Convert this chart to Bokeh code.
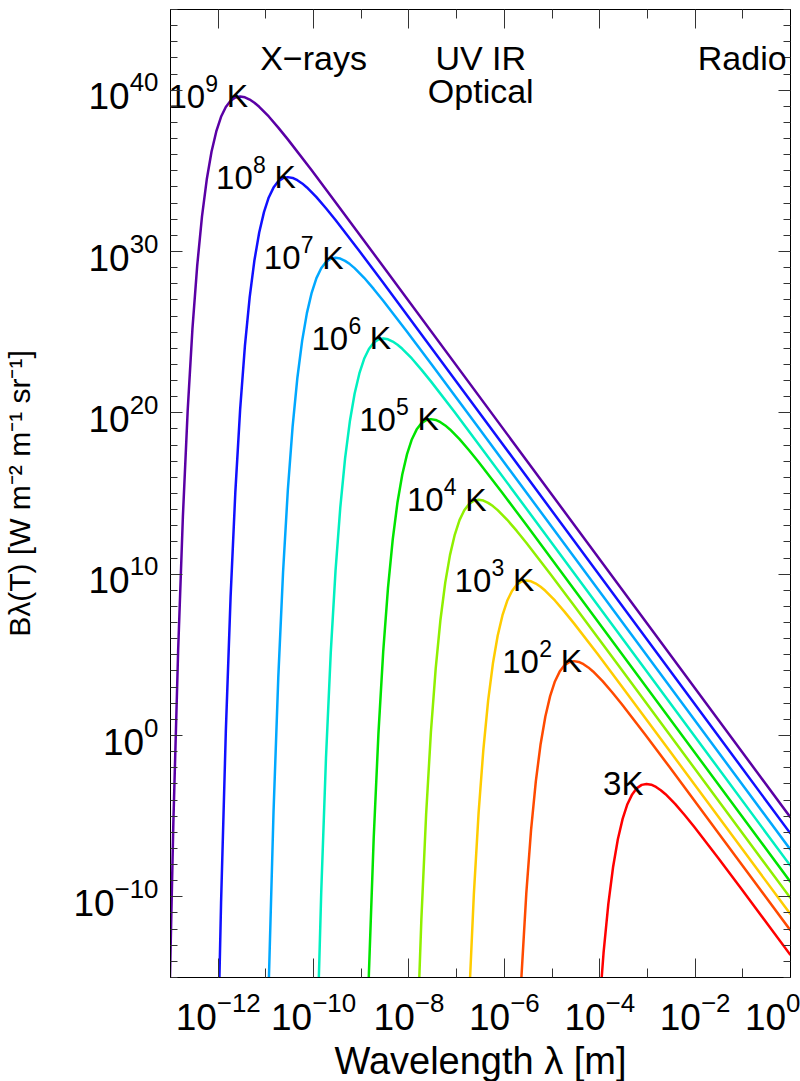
import numpy as np
from bokeh.plotting import figure
from bokeh.models import LogAxis, FixedTicker, Label, ColumnDataSource
from bokeh.embed import file_html
from bokeh.resources import INLINE
from bokeh.core.properties import value

# ---------------- data (log10 of wavelength [m] and of B_lambda) ----------------
lam_T1e9 = [-13.04, -12.94, -12.84, -12.74, -12.64, -12.54, -12.44, -12.34, -12.24, -12.14, -12.04, -11.94, -11.84, -11.74, -11.64, -11.54, -11.44, -11.34, -11.24, -11.14, -10.94, -10.74, -10.54, -10.04, -9.54, -8.54, 0.0]
B_T1e9 = [-18.93, -5.40, 5.24, 13.59, 20.12, 25.20, 29.13, 32.16, 34.46, 36.18, 37.44, 38.35, 38.96, 39.35, 39.55, 39.61, 39.56, 39.42, 39.22, 38.97, 38.37, 37.68, 36.95, 35.03, 33.06, 29.07, -5.08]

lam_T1e8 = [-12.04, -11.94, -11.84, -11.74, -11.64, -11.54, -11.44, -11.34, -11.24, -11.14, -11.04, -10.94, -10.84, -10.74, -10.64, -10.54, -10.44, -10.34, -10.24, -10.14, -9.94, -9.74, -9.54, -9.04, -8.54, -7.54, 0.0]
B_T1e8 = [-23.93, -10.40, 0.24, 8.59, 15.12, 20.20, 24.13, 27.16, 29.46, 31.18, 32.44, 33.35, 33.96, 34.35, 34.55, 34.61, 34.56, 34.42, 34.22, 33.97, 33.37, 32.68, 31.95, 30.03, 28.06, 24.07, -6.08]

lam_T1e7 = [-11.04, -10.94, -10.84, -10.74, -10.64, -10.54, -10.44, -10.34, -10.24, -10.14, -10.04, -9.94, -9.84, -9.74, -9.64, -9.54, -9.44, -9.34, -9.24, -9.14, -8.94, -8.74, -8.54, -8.04, -7.54, -6.54, 0.0]
B_T1e7 = [-28.93, -15.40, -4.76, 3.59, 10.12, 15.20, 19.13, 22.16, 24.46, 26.18, 27.44, 28.35, 28.96, 29.35, 29.55, 29.61, 29.56, 29.42, 29.22, 28.97, 28.37, 27.68, 26.95, 25.03, 23.06, 19.07, -7.08]

lam_T1e6 = [-9.94, -9.84, -9.74, -9.64, -9.54, -9.44, -9.34, -9.24, -9.14, -9.04, -8.94, -8.84, -8.74, -8.64, -8.54, -8.44, -8.34, -8.24, -8.14, -7.94, -7.74, -7.54, -7.04, -6.54, -5.54, 0.0]
B_T1e6 = [-20.40, -9.76, -1.41, 5.12, 10.20, 14.13, 17.16, 19.46, 21.18, 22.44, 23.35, 23.96, 24.35, 24.55, 24.61, 24.56, 24.42, 24.22, 23.97, 23.37, 22.68, 21.95, 20.03, 18.06, 14.07, -8.08]

lam_T1e5 = [-8.94, -8.84, -8.74, -8.64, -8.54, -8.44, -8.34, -8.24, -8.14, -8.04, -7.94, -7.84, -7.74, -7.64, -7.54, -7.44, -7.34, -7.24, -7.14, -6.94, -6.74, -6.54, -6.04, -5.54, -4.54, 0.0]
B_T1e5 = [-25.40, -14.76, -6.41, 0.12, 5.20, 9.13, 12.16, 14.46, 16.18, 17.44, 18.35, 18.96, 19.35, 19.55, 19.61, 19.56, 19.42, 19.22, 18.97, 18.37, 17.68, 16.95, 15.03, 13.06, 9.07, -9.08]

lam_T1e4 = [-7.84, -7.74, -7.64, -7.54, -7.44, -7.34, -7.24, -7.14, -7.04, -6.94, -6.84, -6.74, -6.64, -6.54, -6.44, -6.34, -6.24, -6.14, -5.94, -5.74, -5.54, -5.04, -4.54, -3.54, 0.0]
B_T1e4 = [-19.76, -11.41, -4.88, 0.20, 4.13, 7.16, 9.46, 11.18, 12.44, 13.35, 13.96, 14.35, 14.55, 14.61, 14.56, 14.42, 14.22, 13.97, 13.37, 12.68, 11.95, 10.03, 8.06, 4.07, -10.08]

lam_T1e3 = [-6.84, -6.74, -6.64, -6.54, -6.44, -6.34, -6.24, -6.14, -6.04, -5.94, -5.84, -5.74, -5.64, -5.54, -5.44, -5.34, -5.24, -5.14, -4.94, -4.74, -4.54, -4.04, -3.54, -2.54, 0.0]
B_T1e3 = [-24.76, -16.41, -9.88, -4.80, -0.87, 2.16, 4.46, 6.18, 7.44, 8.35, 8.96, 9.35, 9.55, 9.61, 9.56, 9.42, 9.22, 8.97, 8.37, 7.68, 6.95, 5.03, 3.06, -0.93, -11.08]

lam_T1e2 = [-5.74, -5.64, -5.54, -5.44, -5.34, -5.24, -5.14, -5.04, -4.94, -4.84, -4.74, -4.64, -4.54, -4.44, -4.34, -4.24, -4.14, -3.94, -3.74, -3.54, -3.04, -2.54, -1.54, 0.0]
B_T1e2 = [-21.41, -14.88, -9.80, -5.87, -2.84, -0.54, 1.18, 2.44, 3.35, 3.96, 4.35, 4.55, 4.61, 4.56, 4.42, 4.22, 3.97, 3.37, 2.68, 1.95, 0.03, -1.94, -5.93, -12.08]

lam_T3 = [-4.02, -3.92, -3.82, -3.72, -3.62, -3.52, -3.42, -3.32, -3.22, -3.12, -3.02, -2.92, -2.82, -2.72, -2.62, -2.42, -2.22, -2.02, -1.52, -1.02, 0.0]
B_T3 = [-17.41, -13.48, -10.45, -8.15, -6.43, -5.17, -4.26, -3.65, -3.26, -3.06, -3.00, -3.05, -3.19, -3.39, -3.64, -4.24, -4.93, -5.66, -7.58, -9.55, -13.61]

curve_exponents = ["9", "8", "7", "6", "5", "4", "3", "2"]
curve_colors = ["#5a00a5", "#1010ff", "#00a8ff", "#00f0c0", "#00e400", "#8ff000",
                "#ffcc00", "#ff4a00", "#ff0000"]

x_major_ticks = [1e-12, 1e-10, 1e-8, 1e-6, 1e-4, 1e-2, 1e0]
x_minor_ticks = [1e-13, 1e-11, 1e-9, 1e-7, 1e-5, 1e-3, 1e-1]
y_major_ticks = [1e-10, 1e0, 1e10, 1e20, 1e30, 1e40]
y_minor_ticks = [float(f"1e{k}") for k in range(-15, 46) if k % 10 != 0]

band_names = ["X\u2212rays", "UV IR", "Optical", "Radio"]
band_lam = [1e-10, 3.2e-7, 3.2e-7, 8.3e-1]

x_title = "Wavelength \u03bb [m]"
y_title = "B\u03bb(T) [W m\u207b\u00b2 m\u207b\u00b9 sr\u207b\u00b9]"

# ---------------- figure ----------------
FONT = "Liberation Sans"
p = figure(frame_width=620, frame_height=968, x_axis_type="log", y_axis_type="log",
           x_range=(1e-13, 1e0), y_range=(1e-15, 1e45),
           output_backend="svg", toolbar_location=None,
           min_border_left=170, min_border_right=10, min_border_top=9, min_border_bottom=100)
p.grid.visible = False
p.outline_line_color = "black"
p.outline_line_width = 1

curves = [(lam_T1e9, B_T1e9), (lam_T1e8, B_T1e8), (lam_T1e7, B_T1e7), (lam_T1e6, B_T1e6),
          (lam_T1e5, B_T1e5), (lam_T1e4, B_T1e4), (lam_T1e3, B_T1e3), (lam_T1e2, B_T1e2),
          (lam_T3, B_T3)]

peaks_x, peaks_y = [], []
for (lx, lb), col in zip(curves, curve_colors):
    xs = 10.0 ** np.array(lx)
    ys = 10.0 ** np.array(lb)
    p.line(xs, ys, line_color=col, line_width=2.5)
    i = int(np.argmax(lb))
    peaks_x.append(xs[i]); peaks_y.append(ys[i])

# curve labels "10^n K" anchored at each curve's maximum
src = ColumnDataSource(dict(x=peaks_x[:8], y=peaks_y[:8], exp=curve_exponents,
                            ten=["10"] * 8, k=["K"] * 8))
p.text(x="x", y="y", text="k", source=src, x_offset=8, text_align="right",
       text_baseline="alphabetic", text_font=value(FONT), text_font_size="32px", text_color="black")
p.text(x="x", y="y", text="exp", source=src, x_offset=-22, y_offset=-13, text_align="right",
       text_baseline="alphabetic", text_font=value(FONT), text_font_size="23px", text_color="black")
p.text(x="x", y="y", text="ten", source=src, x_offset=-35, text_align="right",
       text_baseline="alphabetic", text_font=value(FONT), text_font_size="33px", text_color="black")
p.text(x=[peaks_x[8]], y=[peaks_y[8]], text=["3K"], x_offset=-3, text_align="right",
       text_baseline="alphabetic", text_font=value(FONT), text_font_size="33px", text_color="black")

# ---------------- axes ----------------
def style(ax, maj, mnr, labels=True):
    ax.major_tick_in = maj
    ax.major_tick_out = 0
    ax.minor_tick_in = mnr
    ax.minor_tick_out = 0
    ax.axis_line_color = "black"
    ax.major_tick_line_color = "#333333"
    ax.minor_tick_line_color = "#333333"
    if labels:
        ax.major_label_text_font = FONT
        ax.major_label_text_font_size = "37px"
        ax.major_label_text_color = "black"
        ax.axis_label_text_font = FONT
        ax.axis_label_text_font_style = "normal"
        ax.axis_label_text_color = "black"
    else:
        ax.major_label_text_font_size = "1px"
        ax.major_label_text_alpha = 0
        ax.major_label_standoff = 0

xt = FixedTicker(ticks=x_major_ticks, minor_ticks=x_minor_ticks)
yt = FixedTicker(ticks=y_major_ticks, minor_ticks=y_minor_ticks)
p.xaxis[0].ticker = xt
p.yaxis[0].ticker = yt
style(p.xaxis[0], 19, 9)
style(p.yaxis[0], 12, 7)
p.xaxis[0].major_label_standoff = 14
p.yaxis[0].major_label_standoff = 12
p.xaxis[0].axis_label = x_title
p.xaxis[0].axis_label_text_font_size = "38px"
p.xaxis[0].axis_label_standoff = 7
p.yaxis[0].axis_label = y_title
p.yaxis[0].axis_label_text_font_size = "30px"
p.yaxis[0].axis_label_standoff = 34

top = LogAxis(ticker=FixedTicker(ticks=x_major_ticks, minor_ticks=x_minor_ticks))
style(top, 19, 9, labels=False)
p.add_layout(top, "above")
right = LogAxis(ticker=FixedTicker(ticks=y_major_ticks, minor_ticks=y_minor_ticks))
style(right, 12, 7, labels=False)
p.add_layout(right, "right")

# ---------------- band annotations (inside the frame, near its top) ----------------
band_y = [-48, -48, -81, -48]
band_align = ["center", "center", "center", "right"]
for name, lx, dy, al in zip(band_names, band_lam, band_y, band_align):
    p.add_layout(Label(x=lx, y=968 + dy, x_units="data", y_units="screen", text=name,
                       text_align=al, text_baseline="alphabetic", text_font=FONT,
                       text_font_size="34px", text_color="black"))

open("out.html", "w").write(file_html(p, INLINE))
